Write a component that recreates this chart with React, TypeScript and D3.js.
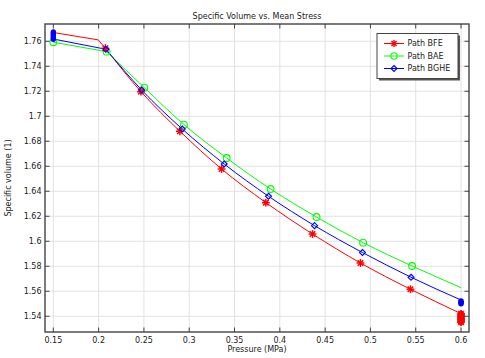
import React from 'react';
import * as d3 from 'd3';

// Series: [pressure (MPa), specific volume]
const BFE_LINE: [number, number][] = [
  [0.15, 1.767], [0.1996, 1.7611], [0.2074, 1.7544], [0.2467, 1.7197], [0.2897, 1.688],
  [0.3357, 1.6578], [0.3846, 1.6309], [0.4361, 1.6058], [0.489, 1.5826], [0.5442, 1.5616],
  [0.6, 1.5421],
];
const BFE_MARKS: [number, number][] = [
  [0.2074, 1.7544], [0.2467, 1.7197], [0.2897, 1.688], [0.3357, 1.6578], [0.3846, 1.6309],
  [0.4361, 1.6058], [0.489, 1.5826], [0.5442, 1.5616],
];
const BFE_END_CLUSTER: [number, number][] = [
  [0.6, 1.5418], [0.6, 1.5402], [0.6, 1.5386], [0.6, 1.537], [0.6, 1.5354],
];

const BAE_LINE: [number, number][] = [
  [0.15, 1.7592], [0.2089, 1.7517], [0.2504, 1.7229], [0.2942, 1.6933], [0.3413, 1.6666],
  [0.3898, 1.6418], [0.4405, 1.6194], [0.4919, 1.5989], [0.546, 1.5802], [0.6, 1.5629],
];
const BAE_MARKS: [number, number][] = BAE_LINE.slice(0, BAE_LINE.length - 1);

const BGHE_LINE: [number, number][] = [
  [0.15, 1.7618], [0.208, 1.7536], [0.2475, 1.721], [0.2923, 1.6898], [0.3386, 1.6618],
  [0.3875, 1.636], [0.4383, 1.6125], [0.4912, 1.591], [0.5448, 1.5712], [0.6, 1.553],
];
const BGHE_MARKS: [number, number][] = BGHE_LINE.slice(1, BGHE_LINE.length - 1);
const BGHE_START_CLUSTER: [number, number][] = [
  [0.15, 1.7672], [0.15, 1.7658], [0.15, 1.7644], [0.15, 1.763], [0.15, 1.7618],
];
const BGHE_END_CLUSTER: [number, number][] = [
  [0.6, 1.552], [0.6, 1.551], [0.6, 1.5502],
];

// index where the initial straight (elastic) stretch ends and the smooth curve begins
const BFE_KNEE = 2;
const BAE_KNEE = 1;
const BGHE_KNEE = 1;

const X_TICKS = [0.15, 0.2, 0.25, 0.3, 0.35, 0.4, 0.45, 0.5, 0.55, 0.6];
const X_TICK_LABELS = ['0.15', '0.2', '0.25', '0.3', '0.35', '0.4', '0.45', '0.5', '0.55', '0.6'];
const Y_TICKS = [1.54, 1.56, 1.58, 1.6, 1.62, 1.64, 1.66, 1.68, 1.7, 1.72, 1.74, 1.76];
const Y_TICK_LABELS = ['1.54', '1.56', '1.58', '1.6', '1.62', '1.64', '1.66', '1.68', '1.7', '1.72', '1.74', '1.76'];

const LEGEND = [
  { label: 'Path BFE', color: '#ff0000', marker: 'star' },
  { label: 'Path BAE', color: '#00ff00', marker: 'circle' },
  { label: 'Path BGHE', color: '#0000ff', marker: 'diamond' },
];

const W = 485;
const H = 358;
const margin = { top: 24, right: 16, bottom: 26, left: 45 };
const FONT = '"DejaVu Sans", Verdana, sans-serif';
const AXIS = '#444';

const x = d3.scaleLinear().domain([0.1408, 0.6088]).range([margin.left, W - margin.right]);
const y = d3.scaleLinear().domain([1.5274, 1.7738]).range([H - margin.bottom, margin.top]);

const straight = d3
  .line<[number, number]>()
  .x((d) => x(d[0]))
  .y((d) => y(d[1]));
const smooth = d3
  .line<[number, number]>()
  .x((d) => x(d[0]))
  .y((d) => y(d[1]))
  .curve(d3.curveMonotoneX);

function pathFor(pts: [number, number][], knee: number) {
  return (straight(pts.slice(0, knee + 1)) ?? '') + (smooth(pts.slice(knee)) ?? '');
}

function Star({ cx, cy, color, r = 3.9, w = 1.5 }: { cx: number; cy: number; color: string; r?: number; w?: number }) {
  const a = r * 0.7071;
  return (
    <g stroke={color} strokeWidth={w}>
      <line x1={cx - r} y1={cy} x2={cx + r} y2={cy} />
      <line x1={cx} y1={cy - r} x2={cx} y2={cy + r} />
      <line x1={cx - a} y1={cy - a} x2={cx + a} y2={cy + a} />
      <line x1={cx - a} y1={cy + a} x2={cx + a} y2={cy - a} />
    </g>
  );
}

function Diamond({ cx, cy, color, r = 3, fill = 'none' }: { cx: number; cy: number; color: string; r?: number; fill?: string }) {
  return (
    <path
      d={`M${cx},${cy - r}L${cx + r},${cy}L${cx},${cy + r}L${cx - r},${cy}Z`}
      fill={fill}
      stroke={color}
      strokeWidth={1.1}
    />
  );
}

function Marker({ kind, cx, cy, color }: { kind: string; cx: number; cy: number; color: string }) {
  if (kind === 'star') return <Star cx={cx} cy={cy} color={color} r={3.6} w={1.4} />;
  if (kind === 'circle') return <circle cx={cx} cy={cy} r={3.2} fill="none" stroke={color} strokeWidth={1.1} />;
  return <Diamond cx={cx} cy={cy} color={color} />;
}

export default function App() {
  const x0 = margin.left;
  const x1 = W - margin.right;
  const y0 = margin.top;
  const y1 = H - margin.bottom;
  const tick = 4.5;
  const lg = { x: 377, y: 33.5, w: 81, h: 45 };

  return (
    <svg
      width={W}
      height={H}
      style={{ position: 'absolute', left: 0, top: 0, background: '#fff', fontFamily: FONT }}
    >
      <rect width={W} height={H} fill="#fff" />

      {/* grid */}
      <g stroke="#e2e2e2" strokeWidth={1}>
        {X_TICKS.map((t) => (
          <line key={'gx' + t} x1={x(t)} x2={x(t)} y1={y0} y2={y1} />
        ))}
        {Y_TICKS.map((t) => (
          <line key={'gy' + t} x1={x0} x2={x1} y1={y(t)} y2={y(t)} />
        ))}
      </g>

      {/* series lines */}
      <path d={pathFor(BFE_LINE, BFE_KNEE)} fill="none" stroke="#ff0000" strokeWidth={1} />
      <path d={pathFor(BAE_LINE, BAE_KNEE)} fill="none" stroke="#00ff00" strokeWidth={1} />
      <path d={pathFor(BGHE_LINE, BGHE_KNEE)} fill="none" stroke="#0000ff" strokeWidth={1} />

      {/* markers */}
      {BAE_MARKS.map((d, i) => (
        <circle key={'g' + i} cx={x(d[0])} cy={y(d[1])} r={3.4} fill="none" stroke="#00ff00" strokeWidth={1.1} />
      ))}
      {BFE_MARKS.map((d, i) => (
        <Star key={'r' + i} cx={x(d[0])} cy={y(d[1])} color="#ff0000" />
      ))}
      {BFE_END_CLUSTER.map((d, i) => (
        <g key={'rc' + i}>
          <Star cx={x(d[0])} cy={y(d[1])} color="#ff0000" w={2} />
          <rect x={x(d[0]) - 2.6} y={y(d[1]) - 2.6} width={5.2} height={5.2} fill="#ff0000" />
        </g>
      ))}
      {BGHE_MARKS.map((d, i) => (
        <Diamond key={'b' + i} cx={x(d[0])} cy={y(d[1])} color="#0000ff" />
      ))}
      {BGHE_START_CLUSTER.map((d, i) => (
        <ellipse key={'bs' + i} cx={x(d[0])} cy={y(d[1])} rx={2.7} ry={3} fill="#0000ff" />
      ))}
      {BGHE_END_CLUSTER.map((d, i) => (
        <ellipse key={'be' + i} cx={x(d[0])} cy={y(d[1])} rx={2.8} ry={3} fill="#0000ff" />
      ))}

      {/* frame and ticks */}
      <rect x={x0} y={y0} width={x1 - x0} height={y1 - y0} fill="none" stroke={AXIS} strokeWidth={1.4} />
      <g stroke={AXIS} strokeWidth={1}>
        {X_TICKS.map((t) => (
          <g key={'tx' + t}>
            <line x1={x(t)} x2={x(t)} y1={y1} y2={y1 - tick} />
            <line x1={x(t)} x2={x(t)} y1={y0} y2={y0 + tick} />
          </g>
        ))}
        {Y_TICKS.map((t) => (
          <g key={'ty' + t}>
            <line x1={x0} x2={x0 + tick} y1={y(t)} y2={y(t)} />
            <line x1={x1} x2={x1 - tick} y1={y(t)} y2={y(t)} />
          </g>
        ))}
      </g>

      {/* tick labels */}
      <g fontSize={8} fill="#222">
        {X_TICKS.map((t, i) => (
          <text key={'lx' + t} x={x(t)} y={343} textAnchor="middle">
            {X_TICK_LABELS[i]}
          </text>
        ))}
        {Y_TICKS.map((t, i) => (
          <text key={'ly' + t} x={41.5} y={y(t)} dy="0.35em" textAnchor="end">
            {Y_TICK_LABELS[i]}
          </text>
        ))}
      </g>

      {/* titles */}
      <text x={(x0 + x1) / 2} y={19} textAnchor="middle" fontSize={8} fill="#222">
        Specific Volume vs. Mean Stress
      </text>
      <text x={(x0 + x1) / 2} y={352} textAnchor="middle" fontSize={8} fill="#222">
        Pressure (MPa)
      </text>
      <text
        transform={`translate(10.5,${(y0 + y1) / 2}) rotate(-90)`}
        textAnchor="middle"
        fontSize={8}
        fill="#222"
      >
        Specific volume (1)
      </text>

      {/* legend */}
      <rect x={lg.x + 2} y={lg.y + 2} width={lg.w} height={lg.h} fill="#555" />
      <rect x={lg.x} y={lg.y} width={lg.w} height={lg.h} fill="#fff" stroke="#444" strokeWidth={1} />
      {LEGEND.map((e, i) => {
        const ly = lg.y + 10 + i * 12.5;
        return (
          <g key={e.label}>
            <line x1={lg.x + 7} x2={lg.x + 27} y1={ly} y2={ly} stroke={e.color} strokeWidth={1} />
            <Marker kind={e.marker} cx={lg.x + 17} cy={ly} color={e.color} />
            <text x={lg.x + 30.5} y={ly} dy="0.35em" fontSize={8} fill="#222">
              {e.label}
            </text>
          </g>
        );
      })}
    </svg>
  );
}
